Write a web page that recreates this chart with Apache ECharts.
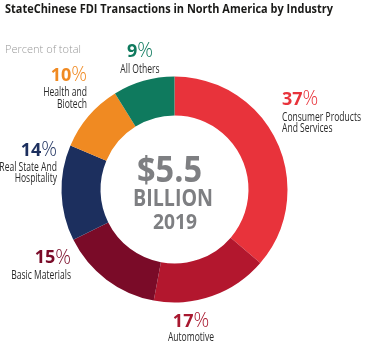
<!DOCTYPE html>
<html><head><meta charset="utf-8">
<script src="https://cdn.jsdelivr.net/npm/echarts@6/dist/echarts.min.js"></script>
<style>html,body{margin:0;padding:0;background:#fff}#c{width:382px;height:346px}</style>
</head><body><div id="c"></div>
<script>
// ---- Data ----
const titleText = 'StateChinese FDI Transactions in North America by Industry';
const subtitleText = 'Percent of total';
const categories = ['Consumer Products\nAnd Services', 'Automotive', 'Basic Materials', 'Real State And\nHospitality', 'Health and\nBiotech', 'All Others'];
const percents = [37, 17, 15, 14, 10, 9];
const centerLines = ['$5.5', 'BILLION', '2019'];

// ---- Styling / layout (not data) ----
const sliceColors = ['#E8333B', '#B3172E', '#7A0B28', '#1C2F5E', '#F08A22', '#0F7A5E'];
const numberColors = ['#E8333B', '#A8182F', '#7A0B28', '#1C2F5E', '#F08A22', '#0F7A5E'];
const labelAnchors = [
  {x: 282, align: 'left',   numY: 98.5,  nameY: [117, 128]},
  {x: 191, align: 'center', numY: 320.5, nameY: [337]},
  {x: 71,  align: 'right',  numY: 257,   nameY: [275]},
  {x: 57,  align: 'right',  numY: 149.5, nameY: [167, 178]},
  {x: 87,  align: 'right',  numY: 74.5,  nameY: [92, 104]},
  {x: 140, align: 'center', numY: 50.5,  nameY: [69]}
];
const FONT = "'Open Sans', 'Noto Sans', sans-serif";
const ctx = document.createElement('canvas').getContext('2d');
function measure(text, font) { ctx.font = font; return ctx.measureText(text).width; }
function fitScale(text, font, target) { return target / measure(text, font); }
const capOffset = fs => 0.072 * fs; // canvas 'middle' vs cap-height centre

const graphics = [];
// Title & subtitle
const titleFont = "700 12.5px " + FONT;
graphics.push({type: 'text', x: 5, y: 9 + capOffset(12.5), scaleX: fitScale(titleText, titleFont, 328),
  style: {text: titleText, font: titleFont, fill: '#1a1a18', textAlign: 'left', textVerticalAlign: 'middle'}});
const subFont = "300 11.5px " + FONT;
graphics.push({type: 'text', x: 5, y: 49 + capOffset(11.5), scaleX: fitScale(subtitleText, subFont, 76),
  style: {text: subtitleText, font: subFont, fill: '#999999', textAlign: 'left', textVerticalAlign: 'middle'}});

// Centre text
const centerSpecs = [
  {fs: 35, w: 65, cx: 169.5, cy: 169.5},
  {fs: 24, w: 80, cx: 173, cy: 197.5},
  {fs: 21, w: 44, cx: 175, cy: 221.5}
];
centerLines.forEach((t, i) => {
  const s = centerSpecs[i];
  const f = "700 " + s.fs + "px " + FONT;
  graphics.push({type: 'text', x: s.cx, y: s.cy + capOffset(s.fs), scaleX: fitScale(t, f, s.w), z: 10,
    style: {text: t, font: f, fill: '#7e7f82', textAlign: 'center', textVerticalAlign: 'middle'}});
});

// Slice labels (built from data arrays)
const nameFont = "400 12px " + FONT;
const nameScale = fitScale('Consumer Products', nameFont, 79);
categories.forEach((cat, i) => {
  const a = labelAnchors[i];
  graphics.push({type: 'text', x: a.x, y: a.numY + capOffset(18),
    style: {text: '{v|' + percents[i] + '}{p|%}', textAlign: a.align, textVerticalAlign: 'middle',
      rich: {
        v: {fontFamily: FONT, fontWeight: 700, fontSize: 18, fill: numberColors[i], color: numberColors[i]},
        p: {fontFamily: FONT, fontWeight: 300, fontSize: 19.5, fill: numberColors[i], color: numberColors[i]}
      }}});
  cat.split('\n').forEach((line, j) => {
    graphics.push({type: 'text', x: a.x, y: a.nameY[j] + capOffset(12), scaleX: nameScale,
      style: {text: line, font: nameFont, fill: '#2a2a2a', textAlign: a.align, textVerticalAlign: 'middle'}});
  });
});

const chart = echarts.init(document.getElementById('c'), null, {renderer: 'canvas'});
chart.setOption({
  animation: false,
  graphic: graphics,
  series: [{
    type: 'pie',
    center: [174.5, 189.5],
    radius: [74, 113],
    startAngle: 90,
    clockwise: true,
    silent: true,
    label: {show: false},
    labelLine: {show: false},
    data: categories.map((c, i) => ({name: c, value: percents[i], itemStyle: {color: sliceColors[i]}}))
  }]
});
</script></body></html>
